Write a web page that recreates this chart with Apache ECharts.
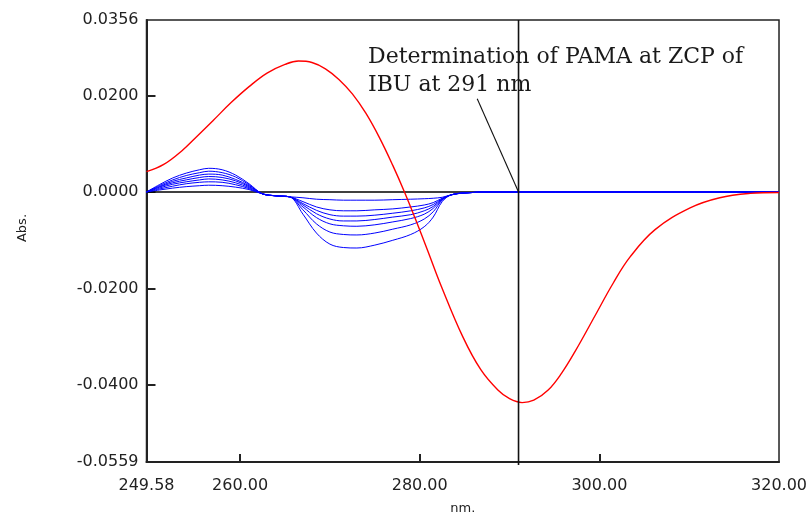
<!DOCTYPE html>
<html>
<head>
<meta charset="utf-8">
<script src="https://cdn.jsdelivr.net/npm/echarts@6/dist/echarts.min.js"></script>
<style>
html,body{margin:0;padding:0;background:#fff;}
#chart{width:810px;height:520px;}
</style>
</head>
<body>
<div id="chart"></div>
<script>
// ---- data ----
const X_MIN = 249.58, X_MAX = 320.00;
const Y_MIN = -0.0559, Y_MAX = 0.0356;
const X_TICKS = [260, 280, 300];
const X_LABELS = [249.58, 260, 280, 300, 320];
const Y_TICKS = [-0.04, -0.02, 0, 0.02];
const Y_LABELS = [-0.0559, -0.04, -0.02, 0, 0.02, 0.0356];

const X_BLUE = [249.58, 251, 252.5, 254, 255.5, 256.5, 258, 259.5, 261, 262.5, 264, 265.5, 267, 268.5, 270, 271.5, 273, 275, 277, 279, 280.5, 281.5, 282.5, 283.5, 285, 288, 320];
const blue1 = [0, 0.0015, 0.0029, 0.0039, 0.0046, 0.0049, 0.0046, 0.0035, 0.0017, -0.0004, -0.0008, -0.0010, -0.0046, -0.0085, -0.0108, -0.0115, -0.0116, -0.0110, -0.0100, -0.0088, -0.0072, -0.0052, -0.0020, -0.0006, -0.0002, 0, 0];
const blue2 = [0, 0.0013, 0.0025, 0.0034, 0.0040, 0.0043, 0.0040, 0.0031, 0.0015, -0.0004, -0.0008, -0.0010, -0.0037, -0.0066, -0.0083, -0.0088, -0.0089, -0.0085, -0.0077, -0.0068, -0.0056, -0.0041, -0.0017, -0.0006, -0.0002, 0, 0];
const blue3 = [0, 0.0011, 0.0022, 0.0029, 0.0035, 0.0037, 0.0035, 0.0026, 0.0013, -0.0004, -0.0008, -0.0010, -0.0031, -0.0053, -0.0066, -0.0070, -0.0071, -0.0068, -0.0062, -0.0055, -0.0046, -0.0034, -0.0016, -0.0006, -0.0002, 0, 0];
const blue4 = [0, 0.0010, 0.0019, 0.0025, 0.0030, 0.0032, 0.0030, 0.0023, 0.0011, -0.0004, -0.0008, -0.0010, -0.0027, -0.0045, -0.0056, -0.0060, -0.0060, -0.0057, -0.0052, -0.0047, -0.0039, -0.0030, -0.0015, -0.0006, -0.0002, 0, 0];
const blue5 = [0, 0.0008, 0.0016, 0.0021, 0.0025, 0.0027, 0.0025, 0.0019, 0.0009, -0.0004, -0.0008, -0.0010, -0.0024, -0.0038, -0.0047, -0.0050, -0.0050, -0.0048, -0.0044, -0.0039, -0.0033, -0.0026, -0.0014, -0.0006, -0.0002, 0, 0];
const blue6 = [0, 0.0006, 0.0012, 0.0017, 0.0020, 0.0021, 0.0020, 0.0015, 0.0007, -0.0004, -0.0008, -0.0010, -0.0020, -0.0031, -0.0037, -0.0039, -0.0039, -0.0037, -0.0035, -0.0031, -0.0027, -0.0022, -0.0013, -0.0006, -0.0002, 0, 0];
const blue7 = [0, 0.0004, 0.0008, 0.0011, 0.0013, 0.0014, 0.0013, 0.0010, 0.0005, -0.0004, -0.0008, -0.0010, -0.0012, -0.0015, -0.0016, -0.0017, -0.0017, -0.0017, -0.0016, -0.0015, -0.0014, -0.0013, -0.0011, -0.0006, -0.0002, 0, 0];
const BLUE_SERIES = [blue1, blue2, blue3, blue4, blue5, blue6, blue7];

const X_RED = [249.58, 251.5, 253.5, 255.3, 257, 259, 261, 263, 265, 266.5, 268, 269.5, 271, 272.5, 274, 275.5, 277, 278.3, 279.5, 280.9, 282.4, 284.8, 286.8, 288.7, 290, 291.4, 292.7, 294.3, 295.8, 297.3, 299.7, 301.5, 303.4, 306.2, 310.1, 313.4, 316.8, 320];
const RED = [0.0042, 0.0057, 0.0085, 0.0117, 0.0148, 0.0185, 0.0218, 0.0246, 0.0264, 0.0271, 0.0268, 0.0255, 0.0233, 0.0203, 0.0163, 0.0113, 0.0055, 0.0000, -0.0055, -0.0122, -0.0195, -0.0300, -0.0368, -0.0410, -0.0428, -0.0436, -0.0431, -0.0410, -0.0375, -0.0330, -0.0250, -0.0190, -0.0135, -0.0078, -0.0033, -0.0012, -0.0003, -0.0001];

const ZCP_NM = 291;
const ZERO_LINE_X = [249.58, 291];
const POINTER_FROM = [286.4, 0.0193];
const NOTE_LINES = ['Determination of PAMA at ZCP of', 'IBU at 291 nm'];
const X_NAME = 'nm.';
const Y_NAME = 'Abs.';

// ---- chart ----
const zip = (xs, ys) => xs.map((x, i) => [x, ys[i]]);
const chart = echarts.init(document.getElementById('chart'), null, {renderer: 'canvas'});
const labelFont = {fontFamily: 'DejaVu Sans', fontSize: 16, color: '#222'};

const series = [];
series.push({
  type: 'line', data: ZERO_LINE_X.map(x => [x, 0]), symbol: 'none', silent: true,
  lineStyle: {color: '#000', width: 1.6}, z: 1
});
BLUE_SERIES.forEach(arr => series.push({
  type: 'line', data: zip(X_BLUE, arr), symbol: 'none', smooth: 0.35, silent: true,
  lineStyle: {color: '#0000ff', width: 1}, z: 2
}));
series.push({
  type: 'line', data: zip(X_RED, RED), symbol: 'none', smooth: 0.4, silent: true,
  lineStyle: {color: '#ff0000', width: 1.4}, z: 3
});
series.push({
  type: 'line', data: [[ZCP_NM, Y_MIN - 0.0006], [ZCP_NM, Y_MAX]], symbol: 'none', silent: true, clip: false,
  lineStyle: {color: '#111', width: 1.6}, z: 4
});
series.push({
  type: 'line', data: [POINTER_FROM, [ZCP_NM, 0]], symbol: 'none', silent: true,
  lineStyle: {color: '#111', width: 1.1}, z: 4
});

chart.setOption({
  animation: false,
  backgroundColor: '#fff',
  grid: {left: 146.5, right: 28, top: 20, bottom: 51, show: true, borderColor: '#222', borderWidth: 1.5, containLabel: false},
  xAxis: {
    type: 'value', min: X_MIN, max: X_MAX,
    name: X_NAME, nameLocation: 'middle', nameGap: 40,
    nameTextStyle: {fontFamily: 'DejaVu Sans', fontSize: 13, color: '#222'},
    axisLine: {show: true, onZero: false, lineStyle: {color: '#222', width: 2}},
    axisTick: {show: true, inside: true, length: 8, customValues: X_TICKS, lineStyle: {color: '#222', width: 2}},
    axisLabel: Object.assign({margin: 16, customValues: X_LABELS, showMinLabel: true, showMaxLabel: true,
      formatter: v => Number(v).toFixed(2)}, labelFont),
    splitLine: {show: false}
  },
  yAxis: {
    type: 'value', min: Y_MIN, max: Y_MAX,
    axisLine: {show: true, onZero: false, lineStyle: {color: '#222', width: 2}},
    axisTick: {show: true, inside: true, length: 9, customValues: Y_TICKS, lineStyle: {color: '#222', width: 2}},
    axisLabel: Object.assign({margin: 8, customValues: Y_LABELS, showMinLabel: true, showMaxLabel: true,
      formatter: v => Number(v).toFixed(4)}, labelFont),
    splitLine: {show: false}
  },
  graphic: [
    {type: 'text', x: 23, y: 228, rotation: Math.PI / 2, silent: true,
      style: {text: Y_NAME, fontFamily: 'DejaVu Sans', fontSize: 13, fill: '#222', textAlign: 'center', textVerticalAlign: 'middle'}},
    {type: 'text', x: 368, y: 43, silent: true, z: 10,
      style: {text: NOTE_LINES.join('\n'), fontFamily: 'DejaVu Serif', fontSize: 22, lineHeight: 28, fill: '#1a1a1a', textAlign: 'left', textVerticalAlign: 'top'}}
  ],
  series: series
});
</script>
</body>
</html>
